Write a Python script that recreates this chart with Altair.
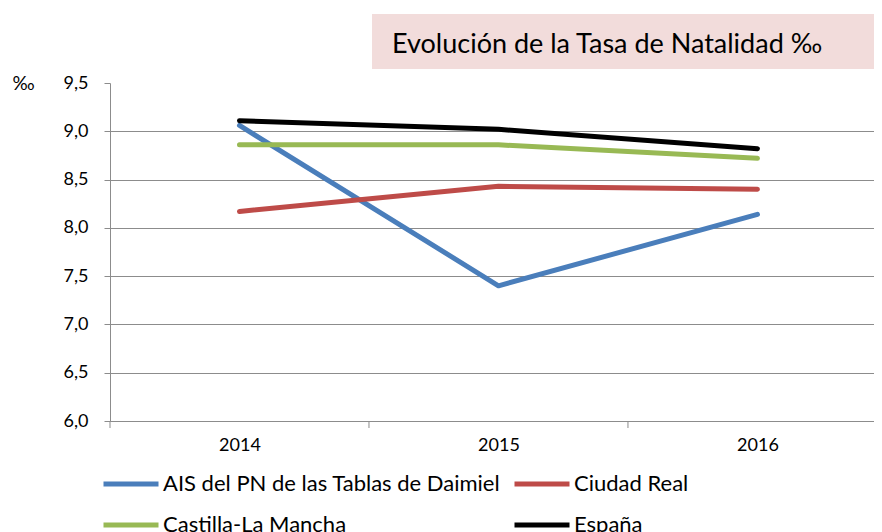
import altair as alt
import pandas as pd

# ---- data ----
years = [2014, 2015, 2016]
series_names = ["AIS del PN de las Tablas de Daimiel", "Ciudad Real", "Castilla-La Mancha", "España"]
ais = [9.06, 7.40, 8.14]
ciudad_real = [8.17, 8.43, 8.40]
castilla_la_mancha = [8.86, 8.86, 8.72]
espana = [9.11, 9.02, 8.82]
y_ticks = [6.0, 6.5, 7.0, 7.5, 8.0, 8.5, 9.0, 9.5]
title_text = "Evolución de la Tasa de Natalidad ‰"
y_unit = "‰"

colors = ["#4A7EBB", "#BE4B48", "#98B954", "#000000"]
GRAY = "#8C8C8C"
FONT = "Lato"
W, H = 764, 338

rows = []
for name, vals in zip(series_names, [ais, ciudad_real, castilla_la_mancha, espana]):
    for yr, v in zip(years, vals):
        rows.append({"Año": yr, "Tasa": v, "Serie": name})
df = pd.DataFrame(rows)

x_scale = alt.Scale(domain=[years[0] - 0.5, years[-1] + 0.45], nice=False, zero=False)
y_scale = alt.Scale(domain=[y_ticks[0], y_ticks[-1]], nice=False, zero=False)

x_axis = alt.Axis(values=years, format="d", ticks=False, grid=False, domain=True,
                  domainColor=GRAY, domainWidth=1, labelFont=FONT, labelFontSize=18,
                  labelColor="black", labelPadding=15, title=None)

lines = alt.Chart(df).mark_line(strokeWidth=5, strokeCap="round", strokeJoin="round").encode(
    x=alt.X("Año:Q", scale=x_scale, axis=x_axis),
    y=alt.Y("Tasa:Q", scale=y_scale,
            axis=alt.Axis(values=y_ticks,
                          labelExpr="replace(format(datum.value, '.1f'), '.', ',')",
                          grid=True, gridColor=GRAY, gridWidth=1,
                          gridOpacity={"condition": {"test": "datum.value >= 9.5", "value": 0},
                                       "value": 1},
                          domainColor=GRAY, tickColor=GRAY, tickSize=6,
                          labelFont=FONT, labelFontSize=18, labelColor="black", labelPadding=16,
                          title=y_unit, titleAngle=0, titleX=-87, titleY=0,
                          titleAlign="center", titleBaseline="middle",
                          titleFont=FONT, titleFontSize=19, titleFontWeight="normal",
                          titleColor="black")),
    color=alt.Color("Serie:N", scale=alt.Scale(domain=series_names, range=colors),
                    legend=alt.Legend(orient="none", legendX=-9, legendY=371, columns=2,
                                      direction="horizontal",
                                      symbolType="stroke", symbolSize=3025,
                                      symbolStrokeWidth=5, labelFont=FONT, labelFontSize=22,
                                      labelColor="black", labelOffset=2, columnPadding=3,
                                      rowPadding=-21, labelLimit=0, title=None)),
)

tick_df = pd.DataFrame({"pos": [years[0] - 0.5] + [y + 0.5 for y in years[:-1]]})
ticks = alt.Chart(tick_df).mark_rule(color=GRAY, strokeWidth=1).encode(
    x=alt.X("pos:Q", scale=x_scale, axis=x_axis),
    y=alt.value(H), y2=alt.value(H + 7),
)

tdf = pd.DataFrame({"t": [title_text]})
box = alt.Chart(tdf).mark_rect(fill="#F2DCDB").encode(
    x=alt.value(262), x2=alt.value(W), y=alt.value(-69), y2=alt.value(-14))
title = alt.Chart(tdf).mark_text(align="left", baseline="middle", fontSize=27, font=FONT,
                                 color="black").encode(
    x=alt.value(282), y=alt.value(-38), text="t:N")

chart = alt.layer(box, title, lines, ticks).properties(
    width=W, height=H,
    autosize=alt.AutoSizeParams(type="none"),
    padding={"left": 102, "top": 75, "right": 0, "bottom": 111},
    background="white",
).configure_view(stroke=None)

chart.save("out.html", embed_options={"renderer": "svg", "actions": False})
